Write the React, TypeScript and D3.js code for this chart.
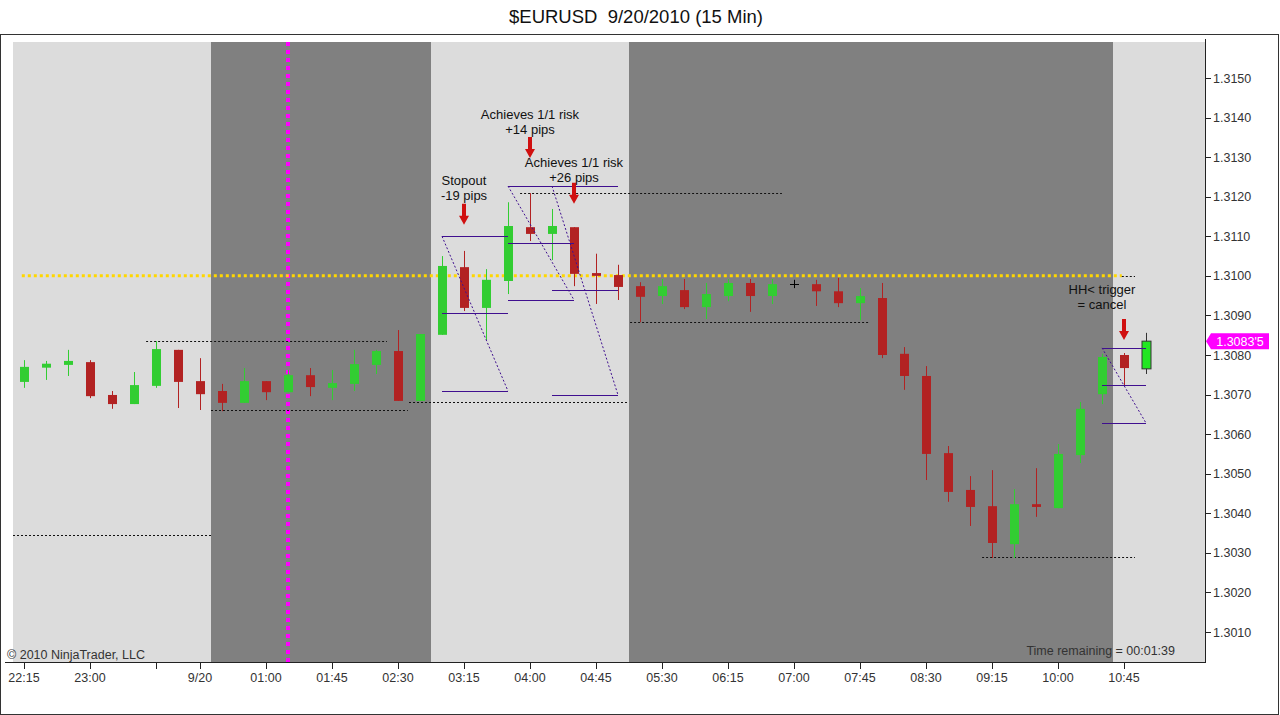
import { range, scaleLinear } from 'd3';

// 15 min bars, 22:15 (9/19) through 10:45 (9/20)
const opens = [
  1.30732, 1.30768, 1.30775, 1.30782, 1.30699, 1.30676, 1.30722, 1.30813, 1.30734, 1.30709,
  1.30679, 1.30734, 1.30706, 1.30749, 1.30717, 1.30727, 1.30775, 1.30810, 1.30684, 1.30851,
  1.31022, 1.30919, 1.30987, 1.31123, 1.31106, 1.31123, 1.31007, 1.31002, 1.30974, 1.30949,
  1.30964, 1.30921, 1.30949, 1.30982, 1.30949, 1.30979, 1.30979, 1.30961, 1.30931, 1.30944,
  1.30803, 1.30747, 1.30552, 1.30459, 1.30418, 1.30322, 1.30423, 1.30413, 1.30547, 1.30701,
  1.30800, 1.30765,
];
const highs = [
  1.30787, 1.30785, 1.30813, 1.30787, 1.30709, 1.30757, 1.30835, 1.30813, 1.30792, 1.30727,
  1.30767, 1.30734, 1.30762, 1.30767, 1.30762, 1.30813, 1.30813, 1.30863, 1.30853, 1.31050,
  1.31063, 1.31017, 1.31186, 1.31209, 1.31169, 1.31123, 1.31056, 1.31028, 1.30984, 1.30992,
  1.30992, 1.30982, 1.30992, 1.30992, 1.30992, 1.30990, 1.30990, 1.30995, 1.30969, 1.30982,
  1.30820, 1.30772, 1.30570, 1.30494, 1.30509, 1.30461, 1.30514, 1.30575, 1.30681, 1.30803,
  1.30805, 1.30856,
];
const lows = [
  1.30717, 1.30737, 1.30747, 1.30691, 1.30664, 1.30676, 1.30717, 1.30666, 1.30661, 1.30658,
  1.30679, 1.30686, 1.30706, 1.30696, 1.30686, 1.30709, 1.30752, 1.30684, 1.30684, 1.30851,
  1.30911, 1.30838, 1.30954, 1.31088, 1.31040, 1.30974, 1.30929, 1.30939, 1.30883, 1.30929,
  1.30916, 1.30891, 1.30936, 1.30909, 1.30929, 1.30969, 1.30924, 1.30921, 1.30888, 1.30792,
  1.30712, 1.30484, 1.30429, 1.30368, 1.30287, 1.30287, 1.30391, 1.30413, 1.30527, 1.30676,
  1.30724, 1.30752,
];
const closes = [
  1.30770, 1.30778, 1.30785, 1.30696, 1.30676, 1.30724, 1.30815, 1.30732, 1.30701, 1.30679,
  1.30734, 1.30706, 1.30749, 1.30719, 1.30729, 1.30777, 1.30810, 1.30684, 1.30853, 1.31025,
  1.30919, 1.30990, 1.31126, 1.31106, 1.31126, 1.31005, 1.31000, 1.30972, 1.30947, 1.30974,
  1.30921, 1.30954, 1.30982, 1.30949, 1.30979, 1.30979, 1.30961, 1.30931, 1.30949, 1.30800,
  1.30747, 1.30550, 1.30454, 1.30416, 1.30325, 1.30423, 1.30416, 1.30550, 1.30664, 1.30795,
  1.30767, 1.30835,
];

const timeTicks = [0, 3, 6, 8, 11, 14, 17, 20, 23, 26, 29, 32, 35, 38, 41, 44, 47, 50];
const timeLabels = ['22:15', '23:00', '', '9/20', '01:00', '01:45', '02:30', '03:15', '04:00', '04:45',
  '05:30', '06:15', '07:00', '07:45', '08:30', '09:15', '10:00', '10:45'];
const priceTicks = range(1.301, 1.31501, 0.001);

// sessions drawn dark (first bar, last bar)
const darkSessions = [[9, 18], [28, 49]];

// dashed swing levels: price, from bar, to bar
const levelPrices = [1.30345, 1.30835, 1.3066, 1.3068, 1.3121, 1.30883, 1.3029];
const levelFrom = [-0.5, 5.55, 8.5, 17.5, 22.55, 27.55, 43.55];
const levelTo = [8.5, 16.5, 17.45, 27.45, 34.45, 38.45, 50.5];

const pivotPrice = 1.31;
const markerBar = 12;
const lastPrice = 1.30835;
const lastLabel = "1.3083'5";

// trade setups: bar span, entry / target / stop levels
const setupFrom = [19, 22, 24, 49];
const setupTo = [22, 25, 27, 51];
const setupTop = [1.311, 1.31227, 1.31227, 1.30818];
const setupMid = [1.30906, 1.31083, 1.30964, 1.30724];
const setupBottom = [1.30709, 1.30939, 1.30699, 1.30628];

// arrows and notes
const noteBars = [20, 23, 25, 49];
const arrowBars = [20, 23, 25, 50];
const arrowTips = [1.31129, 1.31298, 1.31182, 1.30838];
const noteLines = [['Stopout', '-19 pips'], ['Achieves 1/1 risk', '+14 pips'], ['Achieves 1/1 risk', '+26 pips'], ['HH< trigger', '= cancel']];
const noteBase = [1.31192, 1.31358, 1.31237, 1.30916];

const W = 1280;
const H = 715;
const plot = { left: 13, right: 1205, top: 42, bottom: 662 };
const font = '"Liberation Sans", Arial, sans-serif';
const green = '#32CD32';
const red = '#B22222';
const purple = '#3F0F8F';

export default function App() {
  const x = scaleLinear().domain([0, 51]).range([24, 1146]);
  const y = scaleLinear().domain([1.301, 1.315]).range([632, 78]);
  const half = (x(1) - x(0)) / 2;
  const bodyW = 9;

  return (
    <svg width={W} height={H} style={{ position: 'absolute', left: 0, top: 0, background: '#fff' }} fontFamily={font}>
      <text x={636} y={23} textAnchor="middle" fontSize={18.5} fill="#111" style={{ whiteSpace: 'pre' }}>
        {'$EURUSD  9/20/2010 (15 Min)'}
      </text>
      <rect x={0.5} y={34.5} width={1278} height={680} fill="none" stroke="#333" />

      <rect x={plot.left} y={plot.top} width={plot.right - plot.left} height={plot.bottom - plot.top} fill="#DCDCDC" />
      {darkSessions.map(([a, b]) => (
        <rect key={a} x={x(a) - half} y={plot.top} width={x(b) - x(a) + 2 * half} height={plot.bottom - plot.top} fill="#808080" />
      ))}

      <line x1={x(markerBar)} x2={x(markerBar)} y1={plot.top} y2={plot.bottom} stroke="#FF00FF" strokeWidth={4} strokeDasharray="4 4" />

      {levelPrices.map((p, i) => (
        <line key={i} x1={x(levelFrom[i])} x2={x(levelTo[i])} y1={Math.round(y(p)) + 0.5} y2={Math.round(y(p)) + 0.5}
          stroke="#111" strokeDasharray="2 2" />
      ))}
      <line x1={x(-0.1)} x2={x(49.9)} y1={y(pivotPrice)} y2={y(pivotPrice)} stroke="#FFD700" strokeWidth={3} strokeDasharray="3 3" />
      <line x1={x(49.9)} x2={x(50.5)} y1={Math.round(y(pivotPrice)) + 0.5} y2={Math.round(y(pivotPrice)) + 0.5} stroke="#111" strokeDasharray="2 2" />

      {opens.map((o, i) => {
        const c = closes[i];
        const cx = Math.round(x(i)) + 0.5;
        const doji = Math.abs(o - c) < 0.000005;
        const last = i === opens.length - 1;
        const col = doji ? '#000' : c > o ? green : red;
        const top = y(Math.max(o, c));
        const bot = y(Math.min(o, c));
        return (
          <g key={i}>
            <line x1={cx} x2={cx} y1={y(highs[i])} y2={y(lows[i])} stroke={last ? '#333' : col} />
            {doji ? (
              <line x1={cx - bodyW / 2} x2={cx + bodyW / 2} y1={Math.round(top) + 0.5} y2={Math.round(top) + 0.5} stroke="#000" />
            ) : (
              <rect x={cx - bodyW / 2} y={top} width={bodyW} height={Math.max(1, bot - top)}
                fill={last ? '#22E622' : col} stroke={last ? '#333' : 'none'} />
            )}
          </g>
        );
      })}

      {setupFrom.map((a, i) => {
        const x0 = x(a);
        const x1 = x(setupTo[i]);
        return (
          <g key={i} stroke={purple} fill="none">
            {[setupTop[i], setupMid[i], setupBottom[i]].map((p, k) => (
              <line key={k} x1={x0} x2={x1} y1={Math.round(y(p)) + 0.5} y2={Math.round(y(p)) + 0.5} />
            ))}
            <line x1={x0} x2={x1} y1={y(setupTop[i])} y2={y(setupBottom[i])} strokeDasharray="2 2" />
          </g>
        );
      })}

      {arrowBars.map((b, i) => {
        const ax = x(b);
        const tip = y(arrowTips[i]);
        return (
          <path key={i} fill="#D01010"
            d={`M${ax - 2},${tip - 21} H${ax + 2} V${tip - 9} H${ax + 5} L${ax},${tip} L${ax - 5},${tip - 9} H${ax - 2} Z`} />
        );
      })}
      {noteBars.map((b, i) => (
        <text key={i} x={x(b)} y={y(noteBase[i])} textAnchor="middle" fontSize={13} fill="#111">
          {noteLines[i].map((t, k) => (
            <tspan key={k} x={x(b)} dy={k === 0 ? -15 * (noteLines[i].length - 1) : 15}>{t}</tspan>
          ))}
        </text>
      ))}

      <text x={7} y={659} fontSize={12.5} fill="#333">© 2010 NinjaTrader, LLC</text>
      <text x={1175} y={655} textAnchor="end" fontSize={12.5} fill="#333">Time remaining = 00:01:39</text>

      <line x1={5} x2={plot.right} y1={plot.bottom + 0.5} y2={plot.bottom + 0.5} stroke="#222" />
      <line x1={plot.right + 0.5} x2={plot.right + 0.5} y1={39} y2={plot.bottom + 1} stroke="#222" />

      {timeTicks.map((b, i) => (
        <g key={b}>
          <line x1={Math.round(x(b)) + 0.5} x2={Math.round(x(b)) + 0.5} y1={plot.bottom} y2={plot.bottom + 7} stroke="#222" />
          <text x={x(b)} y={682} textAnchor="middle" fontSize={12.5} fill="#333">{timeLabels[i]}</text>
        </g>
      ))}
      {priceTicks.map(p => (
        <g key={p.toFixed(4)}>
          <line x1={plot.right} x2={plot.right + 6} y1={Math.round(y(p)) + 0.5} y2={Math.round(y(p)) + 0.5} stroke="#222" />
          <text x={1213} y={y(p) + 4.5} fontSize={12.5} fill="#333">{p.toFixed(4)}</text>
        </g>
      ))}

      <path fill="#FF00FF" d={`M1206,${y(lastPrice)} L1211,${y(lastPrice) - 8} H1269 V${y(lastPrice) + 8} H1211 Z`} />
      <text x={1240} y={y(lastPrice) + 4.5} textAnchor="middle" fontSize={12.5} fill="#fff">{lastLabel}</text>
    </svg>
  );
}
